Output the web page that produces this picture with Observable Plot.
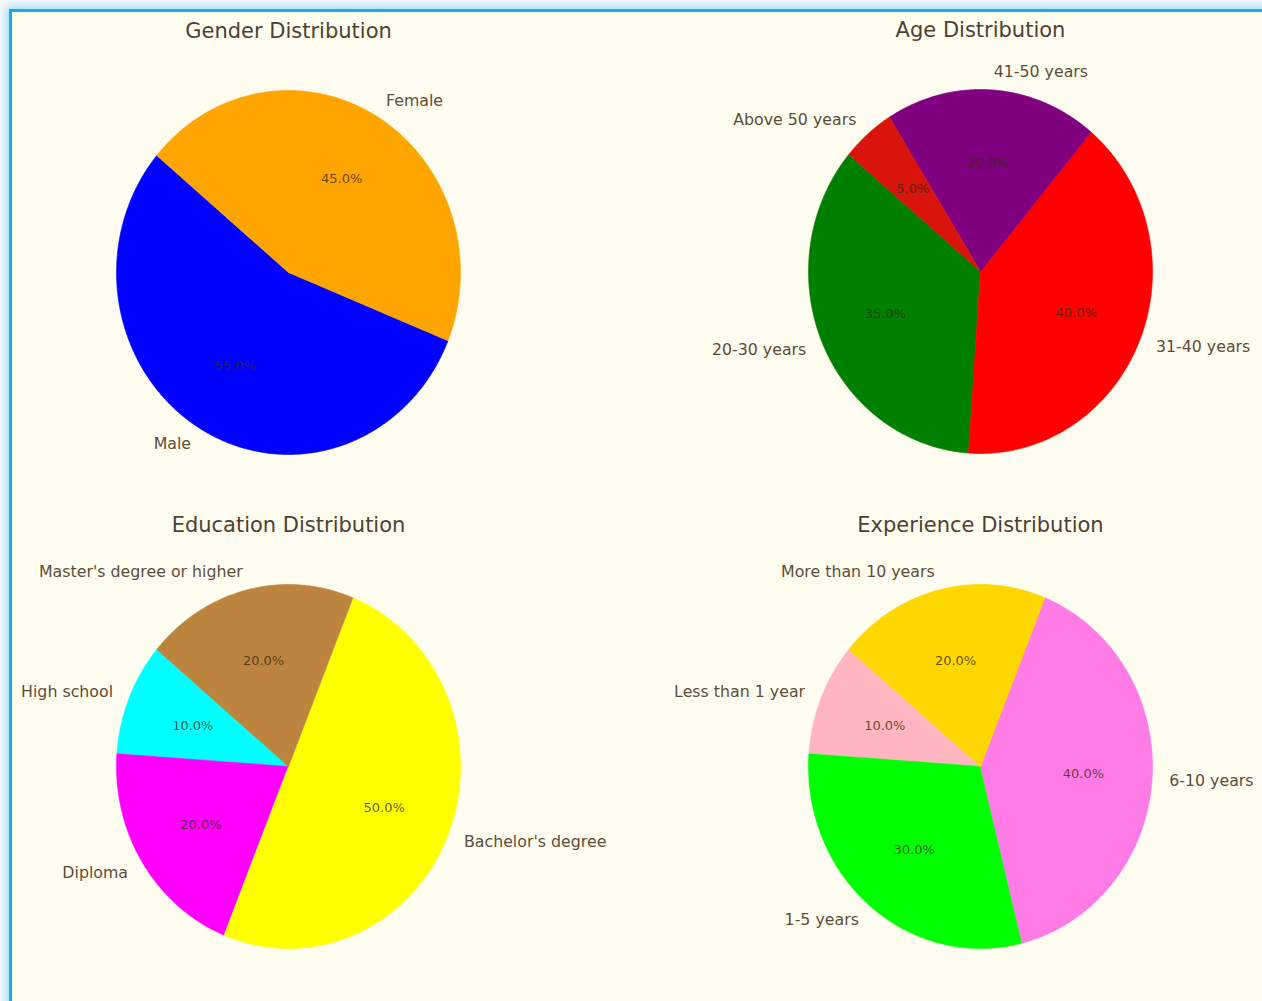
<!DOCTYPE html>
<html>
<head>
<meta charset="utf-8">
<script src="https://cdn.jsdelivr.net/npm/d3@7"></script>
<script src="https://cdn.jsdelivr.net/npm/@observablehq/plot@0.6"></script>
<style>
  html, body { margin: 0; padding: 0; background: #ffffff; overflow: hidden; }
  body { width: 1262px; height: 1001px; position: relative; font-family: "DejaVu Sans", sans-serif; }
  #frame {
    position: absolute; left: 9px; top: 9px; width: 1300px; height: 1050px;
    background: #fffdf0; border: 3px solid #14aef0;
    box-shadow: 0 0 10px 4px #a6dcf7;
  }
  .panel { position: absolute; width: 600px; height: 480px; }
  .panel svg { max-width: none !important; }
</style>
</head>
<body>
<div id="frame"></div>
<div id="p1" class="panel" style="left:-12px; top:10px;"></div>
<div id="p2" class="panel" style="left:680px; top:9px;"></div>
<div id="p3" class="panel" style="left:-12px; top:504px;"></div>
<div id="p4" class="panel" style="left:680px; top:504px;"></div>
<script>
// ---- data ----
const genderTitle = "Gender Distribution";
const genderLabels = ["Male", "Female"];
const genderValues = [55, 45];
const genderColors = ["#0000ff", "#ffa500"];

const ageTitle = "Age Distribution";
const ageLabels = ["20-30 years", "31-40 years", "41-50 years", "Above 50 years"];
const ageValues = [35, 40, 20, 5];
const ageColors = ["#008000", "#ff0000", "#800080", "#d8140c"];

const eduTitle = "Education Distribution";
const eduLabels = ["High school", "Diploma", "Bachelor's degree", "Master's degree or higher"];
const eduValues = [10, 20, 50, 20];
const eduColors = ["#00ffff", "#ff00ff", "#ffff00", "#bd8440"];

const expTitle = "Experience Distribution";
const expLabels = ["Less than 1 year", "1-5 years", "6-10 years", "More than 10 years"];
const expValues = [10, 30, 40, 20];
const expColors = ["#ffb6c1", "#00ff00", "#ff7be6", "#ffd700"];

// ---- layout ----
const W = 600, H = 480, CX = 300, CY = 262, RX = 172, RY = 182;
const START = 140; // degrees, counter-clockwise from 3 o'clock
const labelColor = "#5e4c38";
const titleColor = "#4d4033";

function pie(el, title, labels, values, colors) {
  const total = d3.sum(values);
  const wedges = [], outer = [], inner = [];
  let a = START;
  labels.forEach((lab, i) => {
    const span = values[i] / total * 360;
    const a0 = a, a1 = a + span;
    wedges.push({label: lab, x: 0, y: 0});
    const n = Math.max(2, Math.ceil(span * 2));
    for (let k = 0; k <= n; k++) {
      const t = (a0 + (a1 - a0) * k / n) * Math.PI / 180;
      wedges.push({label: lab, x: Math.cos(t), y: Math.sin(t)});
    }
    wedges.push({label: lab, x: 0, y: 0});
    const m = (a0 + a1) / 2 * Math.PI / 180;
    outer.push({label: lab, x: 1.1 * Math.cos(m), y: 1.1 * Math.sin(m), right: Math.cos(m) >= 0});
    inner.push({text: (values[i] / total * 100).toFixed(1) + "%", x: 0.6 * Math.cos(m), y: 0.6 * Math.sin(m)});
    a = a1;
  });
  const plot = Plot.plot({
    width: W, height: H,
    margin: 0,
    style: {background: "transparent", fontFamily: "DejaVu Sans, sans-serif", overflow: "visible", maxWidth: "none"},
    x: {domain: [-CX / RX, (W - CX) / RX], axis: null},
    y: {domain: [-(H - CY) / RY, CY / RY], axis: null},
    color: {domain: labels, range: colors},
    marks: [
      Plot.line(wedges, {x: "x", y: "y", z: "label", fill: "label", stroke: "label", strokeWidth: 0.6, curve: "linear"}),
      Plot.text(inner, {x: "x", y: "y", text: "text", fontSize: 13, fill: "#3a2a10", fillOpacity: 0.78}),
      Plot.text(outer.filter(d => d.right), {x: "x", y: "y", text: "label", textAnchor: "start", fontSize: 15.8, fill: labelColor}),
      Plot.text(outer.filter(d => !d.right), {x: "x", y: "y", text: "label", textAnchor: "end", fontSize: 15.8, fill: labelColor}),
      Plot.text([title], {x: () => 0, y: () => (CY - 21) / RY, text: d => d, fontSize: 21, fill: titleColor})
    ]
  });
  document.getElementById(el).appendChild(plot);
}

pie("p1", genderTitle, genderLabels, genderValues, genderColors);
pie("p2", ageTitle, ageLabels, ageValues, ageColors);
pie("p3", eduTitle, eduLabels, eduValues, eduColors);
pie("p4", expTitle, expLabels, expValues, expColors);
</script>
</body>
</html>
